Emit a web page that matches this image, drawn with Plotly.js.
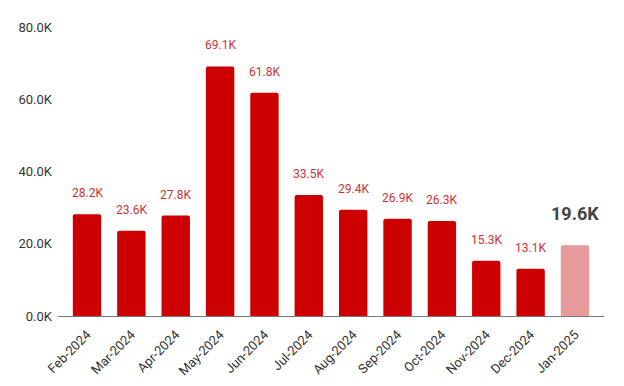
<!DOCTYPE html>
<html>
<head>
<meta charset="utf-8">
<script src="https://cdn.plot.ly/plotly-3.0.1.min.js"></script>
<style>html,body{margin:0;padding:0;background:#fff;}#chart{width:624px;height:386px;}</style>
</head>
<body>
<div id="chart"></div>
<script>
const months = ["Feb-2024","Mar-2024","Apr-2024","May-2024","Jun-2024","Jul-2024","Aug-2024","Sep-2024","Oct-2024","Nov-2024","Dec-2024","Jan-2025"];
const values = [28200,23600,27800,69100,61800,33500,29400,26900,26300,15300,13100,19600];
const labels = ["28.2K","23.6K","27.8K","69.1K","61.8K","33.5K","29.4K","26.9K","26.3K","15.3K","13.1K","19.6K"];
const yTickVals = [0,20000,40000,60000,80000];
const yTickText = ["0.0K","20.0K","40.0K","60.0K","80.0K"];

const last = months.length - 1;
const colors = months.map((m,i)=> i===last ? "#e69a9a" : "#cc0000");

const trace = {
  type: "bar",
  x: months,
  y: values,
  marker: {color: colors, cornerradius: 2},
  hoverinfo: "none"
};

const annotations = months.map((m,i)=>{
  const isLast = i===last;
  return {
    x: m, y: values[i], xref: "x", yref: "y",
    text: isLast ? "<b>"+labels[i]+"</b>" : labels[i],
    showarrow: false, yanchor: "bottom",
    yshift: isLast ? 19 : 12,
    font: isLast ? {family:"Roboto, sans-serif", size:18, color:"#444444"} : {family:"Roboto, sans-serif", size:12, color:"#cc3333"}
  };
});

const layout = {
  width: 624, height: 386,
  margin: {l:58, r:20, t:27, b:70, pad:0},
  paper_bgcolor: "#ffffff", plot_bgcolor: "#ffffff",
  bargap: 0.36,
  showlegend: false,
  xaxis: {
    type: "category",
    range: [-0.654, 11.654],
    tickangle: -45,
    tickfont: {family:"Roboto, sans-serif", size:13, color:"#333333"},
    showline: true, linecolor: "#777777", linewidth: 1,
    showgrid: false, zeroline: false, ticks: "",
    ticklabelstandoff: 5
  },
  yaxis: {
    range: [0, 80000],
    tickvals: yTickVals, ticktext: yTickText,
    tickfont: {family:"Roboto, sans-serif", size:13, color:"#333333"},
    showgrid: false, zeroline: false, showline: false, ticks: "",
    ticklabelstandoff: 5
  },
  annotations: annotations
};

Plotly.newPlot("chart", [trace], layout, {staticPlot: true, displayModeBar: false});
</script>
</body>
</html>
